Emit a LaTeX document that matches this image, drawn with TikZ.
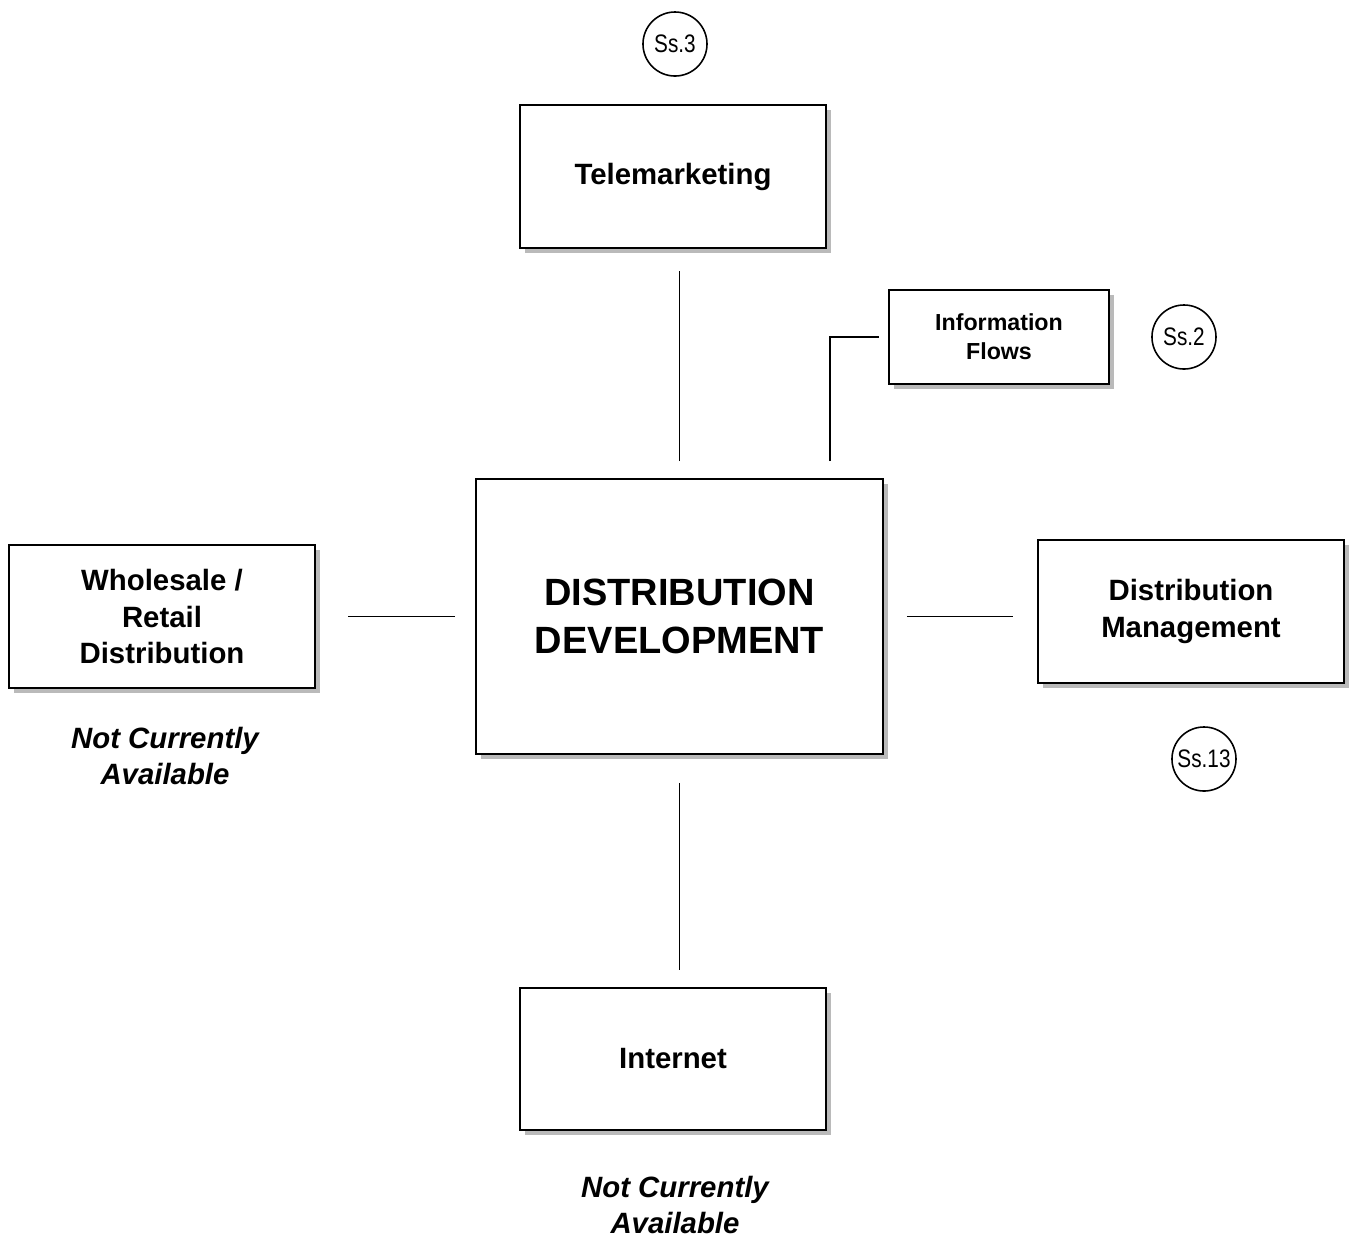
\documentclass[tikz,border=0pt]{standalone}
\usepackage{fontspec}
\setmainfont{Liberation Sans}
\newfontfamily\narrowfont{Liberation Sans}[FakeStretch=0.82]
\usetikzlibrary{shadows}

\begin{document}
\begin{tikzpicture}[x=0.01cm, y=-0.01cm]
        \tikzstyle{box}=[draw=black, fill=white, line width=0.45pt, align=center,
          font=\fontsize{8.35}{10.5}\selectfont\bfseries,
          drop shadow={shadow xshift=0.05cm, shadow yshift=-0.05cm, fill=black!27, opacity=1}]
        \tikzstyle{ssref}=[draw=black, circle, line width=0.45pt, minimum size=0.64cm,
          inner sep=0pt, font=\fontsize{7.2}{8}\narrowfont]
        \tikzstyle{note}=[align=center, font=\fontsize{8.35}{10.3}\selectfont\bfseries\itshape]
        \tikzstyle{link}=[draw=black, line width=0.45pt]
        \useasboundingbox (0,0) rectangle (1350,1238);
        \node [box, minimum width=4.07cm, minimum height=2.75cm,
          font=\fontsize{10.8}{13.7}\selectfont\bfseries] (dist) at (679.5,616.5) {DISTRIBUTION\\DEVELOPMENT};
        \node [box, minimum width=3.06cm, minimum height=1.43cm] (tele) at (673,176.5) {Telemarketing};
        \node [box, minimum width=2.2cm, minimum height=0.94cm,
          font=\fontsize{6.6}{8.2}\selectfont\bfseries] (info) at (999,337) {Information\\Flows};
        \node [box, minimum width=3.06cm, minimum height=1.43cm] (whole) at (162,616.5) {Wholesale /\\Retail\\Distribution};
        \node [box, minimum width=3.06cm, minimum height=1.43cm] (mgmt) at (1191,611.5) {Distribution\\Management};
        \node [box, minimum width=3.06cm, minimum height=1.42cm] (inet) at (673,1059) {Internet};
        \node [ssref] (ss3) at (675,44) {Ss.3};
        \node [ssref] (ss2) at (1184,337) {Ss.2};
        \node [ssref] (ss13) at (1204,759) {Ss.13};
        \node [note] (wholenote) at (165,756) {Not Currently\\Available};
        \node [note] (inetnote) at (675,1205) {Not Currently\\Available};
        \draw [link, shorten <=0.17cm, shorten >=0.22cm] (dist.north) -- (dist.north |- tele.south);
        \draw [link, shorten <=0.28cm, shorten >=0.17cm] (dist.south) -- (dist.south |- inet.north);
        \draw [link, shorten <=0.2cm, shorten >=0.32cm] (dist.west) -- (dist.west -| whole.east);
        \draw [link, shorten <=0.23cm, shorten >=0.24cm] (dist.east) -- (dist.east -| mgmt.west);
        \draw [link, shorten <=0.17cm, shorten >=0.09cm] ([xshift=1.505cm]dist.north) |- (info.west);
\end{tikzpicture}
\end{document}
